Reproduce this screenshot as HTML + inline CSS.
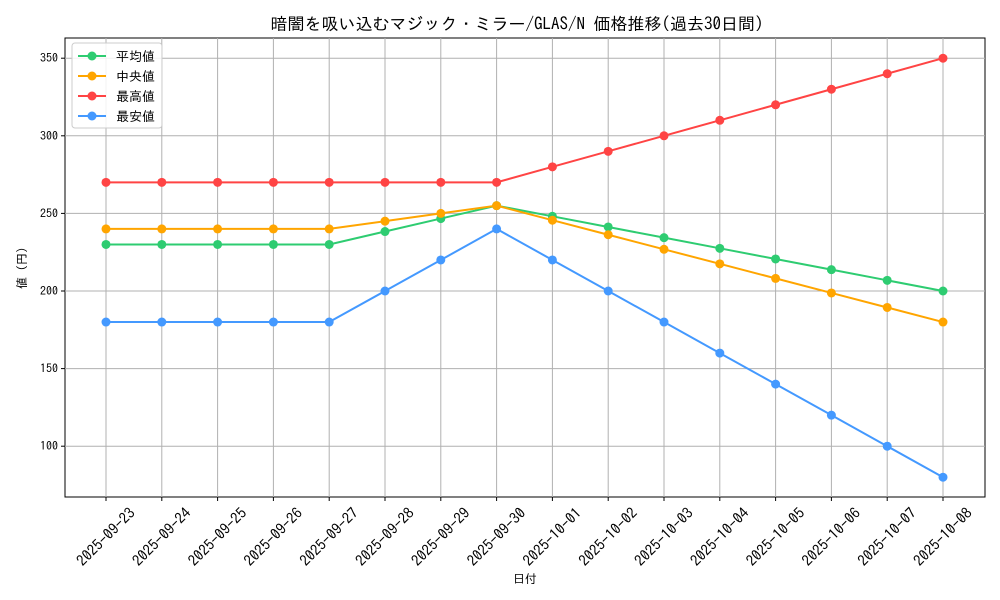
<!DOCTYPE html>
<html><head><meta charset="utf-8"><style>
html,body{margin:0;padding:0;background:#fff;}
svg{display:block;font-family:"IPAGothic","Noto Sans CJK JP","Liberation Sans",sans-serif;}
</style></head><body>
<svg width="1000" height="600" xmlns="http://www.w3.org/2000/svg" id="c"></svg>
<script>
const svg=document.getElementById('c');
let h='';
const x0=106,dx=(943-106)/15;
const Y=v=>291-(v-200)*77.6/50;
const dates=['2025-09-23','2025-09-24','2025-09-25','2025-09-26','2025-09-27','2025-09-28','2025-09-29','2025-09-30','2025-10-01','2025-10-02','2025-10-03','2025-10-04','2025-10-05','2025-10-06','2025-10-07','2025-10-08'];
h+='<rect x="65" y="38" width="920" height="459" fill="#fff" stroke="#000" stroke-width="1"/>';
dates.forEach((d,i)=>{const x=x0+i*dx;
h+=`<line x1="${x}" y1="38" x2="${x}" y2="497" stroke="#b0b0b0" stroke-width="1"/>`;
h+=`<line x1="${x}" y1="497" x2="${x}" y2="501" stroke="#000"/>`;
h+=`<text x="${x}" y="542" font-size="15" text-anchor="middle" transform="rotate(-45 ${x} 537)">${d}</text>`;});
[100,150,200,250,300,350].forEach(v=>{const y=Y(v);
h+=`<line x1="65" y1="${y}" x2="985" y2="${y}" stroke="#b0b0b0" stroke-width="1"/>`;
h+=`<line x1="61" y1="${y}" x2="65" y2="${y}" stroke="#000"/>`;
h+=`<text x="58" y="${y+4}" font-size="12" text-anchor="end">${v}</text>`;});
const avg=[230,230,230,230,230,238.33,246.67,255];for(let i=1;i<=8;i++)avg.push(255-i*6.875);
const med=[240,240,240,240,240,245,250,255];for(let i=1;i<=8;i++)med.push(255-i*9.375);
const mx=[270,270,270,270,270,270,270,270,280,290,300,310,320,330,340,350];
const mn=[180,180,180,180,180,200,220,240,220,200,180,160,140,120,100,80];
const series=[[avg,'#2ecc71'],[med,'#ffa500'],[mx,'#ff4444'],[mn,'#4499ff']];
series.forEach(([d,c])=>{
h+=`<polyline fill="none" stroke="${c}" stroke-width="2" points="${d.map((v,i)=>(x0+i*dx)+','+Y(v)).join(' ')}"/>`;
d.forEach((v,i)=>h+=`<circle cx="${x0+i*dx}" cy="${Y(v)}" r="4.5" fill="${c}"/>`);});
h+='<rect x="72" y="43" width="90" height="85" rx="3" fill="#fff" fill-opacity="0.85" stroke="#ccc"/>';
['平均値','中央値','最高値','最安値'].forEach((t,i)=>{const y=56+i*20;const c=series[i][1];
h+=`<line x1="78" y1="${y}" x2="106" y2="${y}" stroke="${c}" stroke-width="2"/><circle cx="92" cy="${y}" r="4.5" fill="${c}"/>`;
h+=`<text x="116" y="${y+5}" font-size="13">${t}</text>`;});
h+='<text x="517" y="30" font-size="17" text-anchor="middle">暗闇を吸い込むマジック・ミラー/GLAS/N 価格推移(過去30日間)</text>';
h+='<text x="525" y="583" font-size="12" text-anchor="middle">日付</text>';
h+='<text x="26" y="268" font-size="12" text-anchor="middle" transform="rotate(-90 26 268)">値 (円)</text>';
svg.innerHTML=h;
</script>
</body></html>
